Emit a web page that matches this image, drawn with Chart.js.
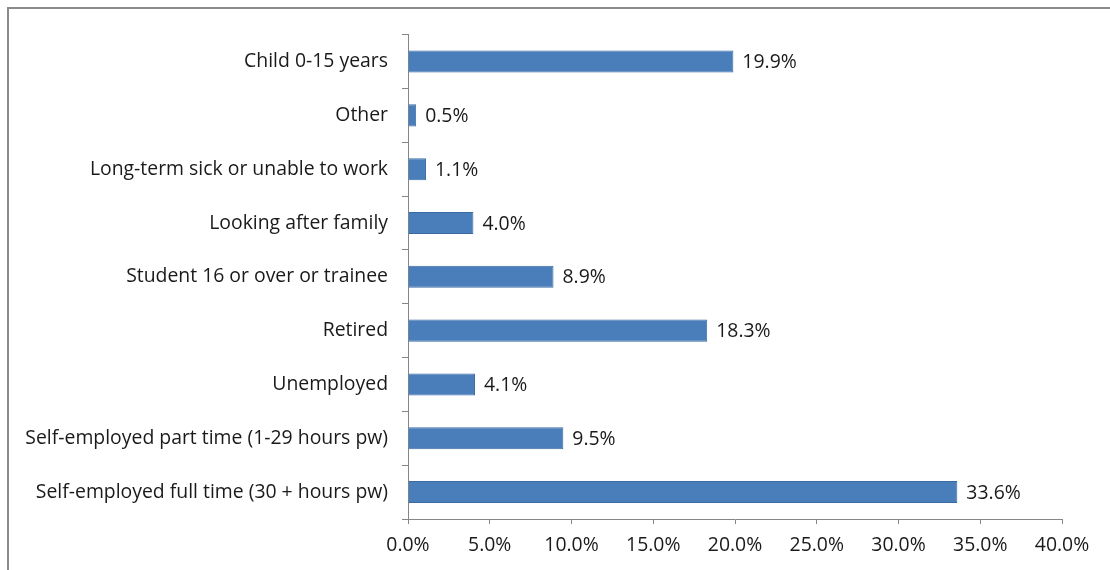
<!DOCTYPE html>
<html>
<head>
<meta charset="utf-8">
<script src="https://cdn.jsdelivr.net/npm/chart.js@4.4.1/dist/chart.umd.min.js"></script>
<style>
  html, body { margin: 0; padding: 0; background: #fff; }
  #wrap {
    position: absolute; left: 7px; top: 7px; width: 1103px; height: 563px;
    border-left: 2px solid #8a8a8a; border-top: 2px solid #8a8a8a;
    box-sizing: border-box;
  }
  #chart { position: absolute; left: 0; top: 0; }
</style>
</head>
<body>
<div id="wrap"><canvas id="chart" width="1101" height="561"></canvas></div>
<script>
"use strict";

// ---------------- DATA ----------------
const categories = [
  "Child 0-15 years",
  "Other",
  "Long-term sick or unable to work",
  "Looking after family",
  "Student 16 or over or trainee",
  "Retired",
  "Unemployed",
  "Self-employed part time (1-29 hours pw)",
  "Self-employed full time (30 + hours pw)",
];
const shares = [19.9, 0.5, 1.1, 4.0, 8.9, 18.3, 4.1, 9.5, 33.6];
const xTicks = [0, 5, 10, 15, 20, 25, 30, 35, 40];

const FONT = "'Open Sans'";
const SIZE = 19.4;
const pct = (v) => v.toFixed(1) + "%";

// ---------------- VALUE LABELS ----------------
const valueLabels = {
  id: "valueLabels",
  afterDatasetsDraw(chart) {
    const ctx = chart.ctx;
    const meta = chart.getDatasetMeta(0);
    ctx.save();
    ctx.font = SIZE + "px " + FONT;
    ctx.fillStyle = "#1a1a1a";
    ctx.textBaseline = "middle";
    ctx.textAlign = "left";
    meta.data.forEach((bar, i) => {
      ctx.fillText(pct(shares[i]), bar.x + 9, bar.y + 1);
    });
    ctx.restore();
  },
};

// ---------------- CHART ----------------
new Chart(document.getElementById("chart"), {
  type: "bar",
  data: {
    labels: categories,
    datasets: [
      {
        data: shares,
        backgroundColor: "#4a7ebb",
        borderColor: "#3b6aa3",
        borderWidth: 1,
        categoryPercentage: 1,
        barPercentage: 0.41,
      },
    ],
  },
  options: {
    indexAxis: "y",
    responsive: false,
    animation: false,
    layout: { padding: { top: 22, right: 48, left: 0, bottom: 0 } },
    plugins: { legend: { display: false }, tooltip: { enabled: false } },
    scales: {
      x: {
        min: 0,
        max: 40,
        afterBuildTicks: (s) => { s.ticks = xTicks.map((v) => ({ value: v })); },
        afterFit: (s) => { s.height = 51; },
        grid: { drawOnChartArea: false, drawTicks: true, tickLength: 5, color: "#868686" },
        border: { color: "#868686" },
        ticks: {
          callback: (v) => pct(v),
          font: { family: FONT, size: SIZE },
          color: "#1a1a1a",
          padding: 10,
          maxRotation: 0,
        },
      },
      y: {
        afterFit: (s) => { s.width = 399; },
        grid: { drawOnChartArea: false, drawTicks: true, tickLength: 6, color: "#868686", offset: true },
        border: { color: "#868686" },
        ticks: {
          font: { family: FONT, size: SIZE },
          color: "#1a1a1a",
          padding: 14,
          autoSkip: false,
        },
      },
    },
  },
  plugins: [valueLabels],
});
</script>
</body>
</html>
